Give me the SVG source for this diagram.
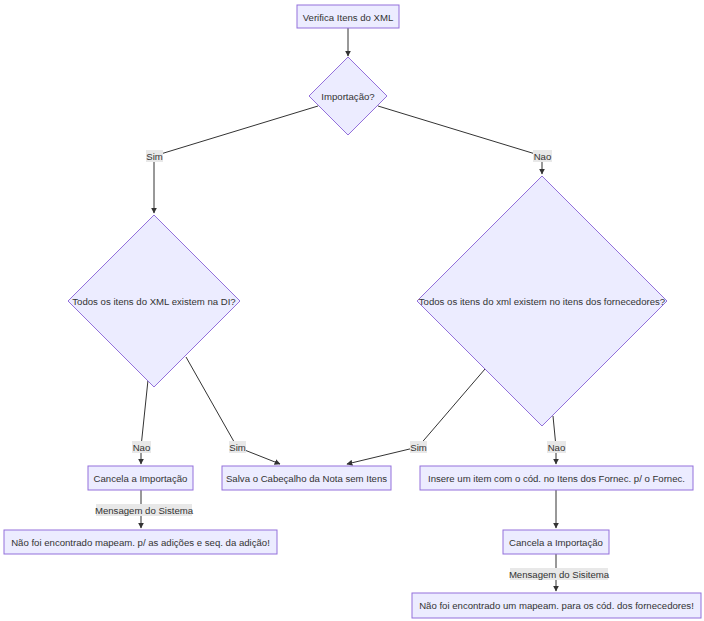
<svg xmlns="http://www.w3.org/2000/svg" width="704" height="621" viewBox="0 0 704 621">
<defs>
<marker id="arr" viewBox="0 0 10 10" refX="9" refY="5" markerWidth="6" markerHeight="6" orient="auto" markerUnits="userSpaceOnUse">
<path d="M0,0 L10,5 L0,10 z" fill="#333"/>
</marker>
</defs>
<style>
.n{fill:#ECECFF;stroke:#9370DB;stroke-width:1}
.t{font-family:"Liberation Sans",Arial,sans-serif;font-size:9.6px;fill:#333;text-anchor:middle;dominant-baseline:central}
.e{fill:none;stroke:#333;stroke-width:1}
.lb{fill:#e8e8e8;stroke:none}
</style>
<rect width="704" height="621" fill="#fff"/>
<g id="connectors">
<path class="e" d="M348,28 L348,56" marker-end="url(#arr)"/>
<path class="e" d="M318,106 L154,156 L154,213" marker-end="url(#arr)"/>
<path class="e" d="M378,106 L542,156 L542,174" marker-end="url(#arr)"/>
<path class="e" d="M148,380 L141,447 L141,464" marker-end="url(#arr)"/>
<path class="e" d="M186,357 L237,447 L280,464" marker-end="url(#arr)"/>
<path class="e" d="M485,369 L418,447 L347,464" marker-end="url(#arr)"/>
<path class="e" d="M553,416 L556,447 L556,464" marker-end="url(#arr)"/>
<path class="e" d="M141,490 L141,528" marker-end="url(#arr)"/>
<path class="e" d="M556,490 L556,528" marker-end="url(#arr)"/>
<path class="e" d="M556,554 L556,591" marker-end="url(#arr)"/>
<rect class="lb" x="146" y="150" width="17" height="12"/>
<text class="t" x="154.5" y="156">Sim</text>
<rect class="lb" x="533" y="150" width="19" height="12"/>
<text class="t" x="542.5" y="156">Nao</text>
<rect class="lb" x="132" y="441" width="19" height="12"/>
<text class="t" x="141.5" y="447">Nao</text>
<rect class="lb" x="229" y="441" width="17" height="12"/>
<text class="t" x="237.5" y="447">Sim</text>
<rect class="lb" x="410" y="441" width="17" height="12"/>
<text class="t" x="418.5" y="447">Sim</text>
<rect class="lb" x="547" y="441" width="19" height="12"/>
<text class="t" x="556.5" y="447">Nao</text>
<rect class="lb" x="96" y="504" width="96" height="12"/>
<text class="t" x="144" y="510">Mensagem do Sistema</text>
<rect class="lb" x="510" y="568" width="98" height="12"/>
<text class="t" x="559" y="574">Mensagem do Sisitema</text>
</g>
<g id="verifica">
<rect class="n" x="297" y="5" width="102" height="23"/>
<text class="t" x="348" y="17">Verifica Itens do XML</text>
</g>
<g id="importacao">
<polygon class="n" points="348,57 387,96 348,135 309,96"/>
<text class="t" x="348" y="96">Importação?</text>
</g>
<g id="di">
<polygon class="n" points="154,215 240,301 154,387 68,301"/>
<text class="t" x="154" y="301">Todos os itens do XML existem na DI?</text>
</g>
<g id="fornec">
<polygon class="n" points="542,176 667,301 542,426 417,301"/>
<text class="t" x="542" y="301">Todos os itens do xml existem no itens dos fornecedores?</text>
</g>
<g id="cancela1">
<rect class="n" x="88" y="466" width="105" height="24"/>
<text class="t" x="140.5" y="478">Cancela a Importação</text>
</g>
<g id="salva">
<rect class="n" x="222" y="466" width="169" height="24"/>
<text class="t" x="306.5" y="478">Salva o Cabeçalho da Nota sem Itens</text>
</g>
<g id="msg1">
<rect class="n" x="4" y="530" width="273" height="24"/>
<text class="t" x="140.5" y="542">Não foi encontrado mapeam. p/ as adições e seq. da adição!</text>
</g>
<g id="insere">
<rect class="n" x="420" y="466" width="273" height="24"/>
<text class="t" x="556.5" y="478">Insere um item com o cód. no Itens dos Fornec. p/ o Fornec.</text>
</g>
<g id="cancela2">
<rect class="n" x="503" y="530" width="106" height="24"/>
<text class="t" x="556" y="542">Cancela a Importação</text>
</g>
<g id="msg2">
<rect class="n" x="412" y="593" width="289" height="25"/>
<text class="t" x="556.5" y="605.5">Não foi encontrado um mapeam. para os cód. dos fornecedores!</text>
</g>
</svg>
